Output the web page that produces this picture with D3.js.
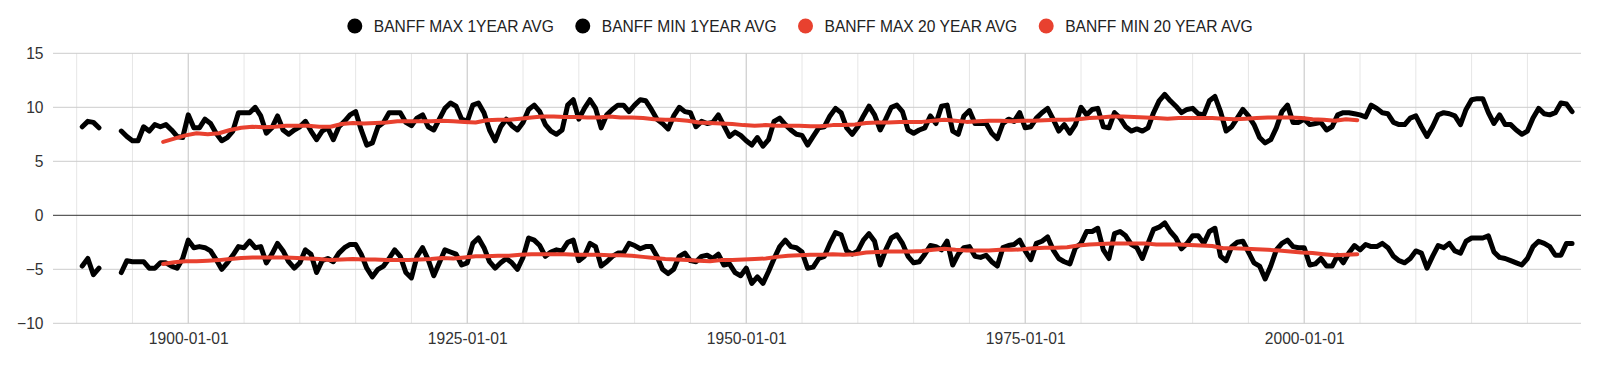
<!DOCTYPE html>
<html lang="en">
<head>
    <meta charset="UTF-8">
    <title>Banff temperature averages</title>
    <script src="https://d3js.org/d3.v7.min.js"></script>
    <style>
        body { margin: 0; background: #fff; }
        svg { display: block; font-family: Arial, "Liberation Sans", sans-serif; }
        .tick text { fill: #333; font-size: 15.6px; }
        .legend text { fill: #222; font-size: 15.6px; }
    </style>
</head>
<body>
    <svg id="chart" width="1600" height="365"></svg>

    <script>
        // ---- data ----
        // 1 year averages, one value every half year from 1890.5 to 2024.0
        const oneYearStart = 1890.5;
        const oneYearStep = 0.5;
        const max1yr = [
            8.2, 8.7, 8.6, 8.1, null, null, null, 7.8, 7.3, 6.9,
            6.9, 8.2, 7.8, 8.4, 8.2, 8.4, 7.9, 7.3, 7.2, 9.3,
            8.1, 8.1, 8.9, 8.5, 7.6, 6.9, 7.2, 7.8, 9.5, 9.5,
            9.5, 10.0, 9.2, 7.6, 8.1, 9.2, 7.9, 7.5, 7.9, 8.2,
            8.7, 7.8, 7.0, 7.8, 8.1, 7.0, 8.2, 8.7, 9.3, 9.6,
            7.9, 6.5, 6.7, 8.2, 8.6, 9.5, 9.5, 9.5, 8.6, 8.3,
            9.0, 9.3, 8.2, 7.9, 8.9, 9.9, 10.4, 10.1, 8.9, 8.7,
            10.2, 10.4, 9.5, 7.9, 6.9, 8.2, 8.9, 8.3, 7.9, 8.6,
            9.8, 10.2, 9.6, 8.4, 7.8, 7.5, 7.9, 10.2, 10.7, 8.9,
            9.9, 10.7, 9.9, 8.1, 9.3, 9.8, 10.2, 10.2, 9.6, 10.2,
            10.7, 10.6, 9.8, 8.9, 8.5, 8.0, 9.2, 10.0, 9.6, 9.5,
            8.2, 8.7, 8.5, 8.6, 9.3, 8.3, 7.3, 7.7, 7.4, 6.9,
            6.5, 7.2, 6.4, 7.0, 8.7, 9.0, 8.4, 7.9, 7.5, 7.4,
            6.5, 7.3, 8.1, 8.2, 9.2, 9.9, 9.5, 8.1, 7.5, 8.2,
            9.2, 10.1, 9.3, 7.9, 8.9, 10.0, 10.2, 9.6, 7.9, 7.6,
            7.9, 8.1, 9.2, 8.5, 10.1, 10.2, 7.8, 7.5, 9.2, 9.7,
            8.5, 8.5, 8.5, 7.6, 7.1, 8.5, 8.9, 8.7, 9.5, 8.1,
            8.2, 9.0, 9.5, 9.9, 8.9, 7.8, 8.4, 7.6, 8.4, 10.0,
            9.3, 9.8, 9.9, 8.2, 8.1, 9.5, 9.0, 8.2, 7.8, 8.0,
            7.8, 8.1, 9.5, 10.6, 11.2, 10.6, 10.1, 9.5, 9.8, 9.9,
            9.4, 9.3, 10.6, 11.0, 9.6, 7.8, 8.2, 9.0, 9.8, 9.2,
            8.4, 7.2, 6.7, 7.0, 8.1, 9.6, 10.2, 8.6, 8.6, 8.9,
            8.4, 8.5, 8.6, 7.9, 8.2, 9.3, 9.5, 9.5, 9.4, 9.3,
            9.1, 10.2, 9.9, 9.5, 9.4, 8.6, 8.4, 8.4, 9.0, 9.2,
            8.2, 7.3, 8.2, 9.3, 9.5, 9.4, 9.2, 8.4, 9.8, 10.7,
            10.8, 10.8, 9.5, 8.5, 9.3, 8.4, 8.4, 7.9, 7.5, 7.8,
            9.0, 9.9, 9.4, 9.3, 9.5, 10.4, 10.3, 9.6
        ];
        const min1yr = [
            -4.7, -4.0, -5.5, -4.9, null, null, null, -5.3, -4.2, -4.3,
            -4.3, -4.3, -4.9, -4.9, -4.4, -4.4, -4.7, -4.9, -4.0, -2.3,
            -3.0, -2.9, -3.0, -3.3, -4.1, -5.0, -4.4, -3.7, -2.9, -3.0,
            -2.4, -3.0, -2.9, -4.4, -3.6, -2.6, -3.3, -4.3, -4.9, -4.4,
            -3.2, -3.6, -5.3, -4.2, -4.0, -4.3, -3.5, -3.0, -2.7, -2.7,
            -3.6, -4.9, -5.7, -5.0, -4.7, -4.0, -3.2, -3.8, -5.3, -5.8,
            -3.8, -3.0, -4.1, -5.6, -4.4, -3.2, -3.4, -3.6, -4.6, -4.4,
            -2.6, -2.1, -3.0, -4.3, -4.9, -4.4, -4.0, -4.4, -5.0, -3.9,
            -2.1, -2.3, -2.8, -3.8, -3.4, -3.2, -3.3, -2.5, -2.3, -4.2,
            -3.8, -2.6, -2.9, -4.7, -4.3, -3.8, -3.5, -3.5, -2.6, -2.8,
            -3.1, -2.9, -2.9, -3.8, -5.0, -5.4, -5.0, -3.8, -3.5, -4.2,
            -4.3, -3.8, -3.7, -4.0, -3.6, -4.6, -4.5, -5.3, -5.6, -4.9,
            -6.3, -5.7, -6.3, -5.2, -4.0, -2.9, -2.3, -2.9, -3.0, -3.4,
            -4.9, -4.8, -4.0, -3.8, -2.6, -1.6, -1.8, -3.3, -3.6, -3.3,
            -2.3, -1.7, -2.4, -4.6, -3.2, -2.1, -1.8, -2.6, -3.8, -4.4,
            -4.3, -3.6, -2.8, -2.9, -3.2, -2.4, -4.6, -3.6, -3.0, -2.9,
            -3.8, -3.9, -3.7, -4.3, -4.7, -3.0, -2.8, -2.7, -2.3, -3.3,
            -4.1, -2.6, -2.4, -2.0, -3.2, -4.0, -4.3, -4.5, -3.0, -2.6,
            -1.5, -1.5, -1.2, -3.2, -4.0, -1.7, -1.5, -1.9, -2.7, -3.0,
            -4.0, -2.6, -1.3, -1.1, -0.7, -1.5, -2.1, -3.1, -2.6, -1.9,
            -1.9, -2.6, -1.5, -1.2, -3.8, -4.2, -2.9, -2.5, -2.4, -3.4,
            -4.4, -4.7, -5.9, -4.7, -3.2, -2.6, -2.3, -2.9, -3.0, -3.0,
            -4.6, -4.5, -4.0, -4.7, -4.7, -3.7, -4.4, -3.5, -2.8, -3.2,
            -2.7, -2.9, -2.9, -2.6, -3.0, -3.8, -4.2, -4.4, -4.0, -3.3,
            -3.5, -4.9, -3.8, -2.8, -3.0, -2.6, -3.3, -3.5, -2.4, -2.1,
            -2.1, -2.1, -1.9, -3.4, -3.9, -4.0, -4.2, -4.4, -4.6, -4.0,
            -2.9, -2.4, -2.6, -2.9, -3.7, -3.7, -2.6, -2.6
        ];

        // 20 year averages, one value per year from 1897.75 to 2004.75
        const twentyYearStart = 1897.75;
        const twentyYearStep = 1;
        const max20yr = [
            6.8, 7.1, 7.4, 7.6, 7.5, 7.6, 7.9, 8.1, 8.2, 8.15,
            8.2, 8.3, 8.3, 8.3, 8.2, 8.2, 8.45, 8.55, 8.5, 8.55,
            8.6, 8.7, 8.7, 8.7, 8.7, 8.75, 8.7, 8.65, 8.6, 8.8,
            8.85, 8.85, 8.95, 9.05, 9.15, 9.15, 9.1, 9.1, 9.05, 9.05,
            9.15, 9.05, 9.05, 9.0, 8.9, 8.85, 8.85, 8.75, 8.6, 8.55,
            8.5, 8.45, 8.35, 8.3, 8.35, 8.3, 8.3, 8.3, 8.25, 8.25,
            8.35, 8.35, 8.4, 8.55, 8.6, 8.6, 8.65, 8.65, 8.65, 8.75,
            8.85, 8.75, 8.65, 8.7, 8.75, 8.75, 8.7, 8.75, 8.75, 8.8,
            8.85, 8.85, 8.9, 9.0, 9.05, 9.15, 9.15, 9.1, 9.05, 9.0,
            8.95, 9.0, 9.0, 9.0, 9.0, 8.95, 8.9, 8.95, 9.0, 9.05,
            9.05, 9.05, 9.0, 8.9, 8.85, 8.75, 8.9, 8.8
        ];
        const min20yr = [
            -4.5, -4.35, -4.25, -4.25, -4.2, -4.15, -4.05, -3.95, -3.9, -3.9,
            -3.9, -3.9, -3.95, -4.0, -4.05, -4.15, -4.1, -4.05, -4.1, -4.1,
            -4.15, -4.15, -4.15, -4.1, -4.05, -3.95, -4.0, -3.9, -3.8, -3.8,
            -3.75, -3.75, -3.65, -3.6, -3.6, -3.6, -3.6, -3.65, -3.65, -3.65,
            -3.7, -3.7, -3.75, -3.85, -3.95, -4.05, -4.1, -4.15, -4.2, -4.25,
            -4.15, -4.15, -4.1, -4.05, -4.0, -3.85, -3.75, -3.7, -3.65, -3.65,
            -3.6, -3.65, -3.6, -3.45, -3.4, -3.35, -3.35, -3.35, -3.3, -3.2,
            -3.1, -3.2, -3.25, -3.25, -3.25, -3.2, -3.2, -3.15, -3.05, -3.0,
            -3.0, -2.95, -2.8, -2.7, -2.65, -2.6, -2.6, -2.6, -2.6, -2.7,
            -2.7, -2.7, -2.75, -2.8, -2.85, -3.05, -3.05, -3.1, -3.15, -3.2,
            -3.25, -3.35, -3.45, -3.5, -3.6, -3.7, -3.65, -3.6
        ];

        const seriesNames = ["BANFF MAX 1YEAR AVG", "BANFF MIN 1YEAR AVG", "BANFF MAX 20 YEAR AVG", "BANFF MIN 20 YEAR AVG"];
        const seriesColors = ["#000000", "#000000", "#e8412f", "#e8412f"];
        const xTickLabels = ["1900-01-01", "1925-01-01", "1950-01-01", "1975-01-01", "2000-01-01"];
        const yTicks = [-10, -5, 0, 5, 10, 15];

        // ---- setup ----
        const svg = d3.select("#chart");
        const plotLeft = 53, plotRight = 1581, plotTop = 53.3, plotBottom = 323.3;

        // decimal year -> UTC date
        function yearToDate(yr) {
            const y0 = Math.floor(yr);
            const a = Date.UTC(y0, 0, 1), b = Date.UTC(y0 + 1, 0, 1);
            return new Date(a + (yr - y0) * (b - a));
        }

        const x = d3.scaleUtc()
            .domain([yearToDate(1887.88), yearToDate(2024.8)])
            .range([plotLeft, plotRight]);
        const y = d3.scaleLinear()
            .domain([-10, 15])
            .range([plotBottom, plotTop]);

        const parseDay = d3.utcParse("%Y-%m-%d");
        const majorDates = xTickLabels.map(parseDay);

        // minor vertical gridlines every 5 years
        const minorDates = x.ticks(d3.utcYear.every(5));
        svg.append("g")
            .selectAll("line")
            .data(minorDates)
            .join("line")
            .attr("x1", d => x(d)).attr("x2", d => x(d))
            .attr("y1", plotTop).attr("y2", plotBottom)
            .attr("stroke", "#e6e6e6")
            .attr("stroke-width", 1);

        // major vertical gridlines
        svg.append("g")
            .selectAll("line")
            .data(majorDates)
            .join("line")
            .attr("x1", d => x(d)).attr("x2", d => x(d))
            .attr("y1", plotTop).attr("y2", plotBottom)
            .attr("stroke", "#cccccc")
            .attr("stroke-width", 1);

        // horizontal gridlines
        svg.append("g")
            .selectAll("line")
            .data(yTicks)
            .join("line")
            .attr("x1", plotLeft).attr("x2", plotRight)
            .attr("y1", d => y(d)).attr("y2", d => y(d))
            .attr("stroke", d => d === 0 ? "#333333" : "#cccccc")
            .attr("stroke-width", 1);

        // y axis labels
        const yAxis = svg.append("g")
            .attr("transform", `translate(${plotLeft},0)`)
            .call(d3.axisLeft(y).tickValues(yTicks).tickSize(0).tickPadding(9.5));
        yAxis.select(".domain").remove();

        // x axis labels
        const xAxis = svg.append("g")
            .attr("transform", `translate(0,${plotBottom})`)
            .call(d3.axisBottom(x).tickValues(majorDates)
                .tickFormat(d3.utcFormat("%Y-%m-%d")).tickSize(0).tickPadding(10));
        xAxis.select(".domain").remove();
        yAxis.attr("font-family", null).attr("font-size", null);
        xAxis.attr("font-family", null).attr("font-size", null);

        // ---- lines ----
        function toPoints(vals, start, step) {
            return vals.map((v, i) => ({ date: yearToDate(start + i * step), v: v }));
        }

        const line = d3.line()
            .defined(d => d.v !== null)
            .x(d => x(d.date))
            .y(d => y(d.v));

        const seriesData = [
            { pts: toPoints(max1yr, oneYearStart, oneYearStep), w: 5 },
            { pts: toPoints(min1yr, oneYearStart, oneYearStep), w: 5 },
            { pts: toPoints(max20yr, twentyYearStart, twentyYearStep), w: 4 },
            { pts: toPoints(min20yr, twentyYearStart, twentyYearStep), w: 4 }
        ];

        seriesData.forEach((s, i) => {
            svg.append("path")
                .datum(s.pts)
                .attr("d", line)
                .attr("fill", "none")
                .attr("stroke", seriesColors[i])
                .attr("stroke-width", s.w)
                .attr("stroke-linejoin", "round")
                .attr("stroke-linecap", "round");
        });

        // ---- legend ----
        const legend = svg.append("g").attr("class", "legend");
        let curX = 0;
        seriesNames.forEach((name, i) => {
            const item = legend.append("g").attr("transform", `translate(${curX},0)`);
            item.append("circle")
                .attr("cx", 7.5).attr("cy", 26).attr("r", 7.5)
                .attr("fill", seriesColors[i]);
            const t = item.append("text")
                .attr("x", 26.5).attr("y", 31.5)
                .text(name);
            curX += 26.5 + t.node().getComputedTextLength() + 21.5;
        });
        const legendWidth = curX - 21.5;
        legend.attr("transform", `translate(${800 - legendWidth / 2},0)`);
    </script>
</body>
</html>
